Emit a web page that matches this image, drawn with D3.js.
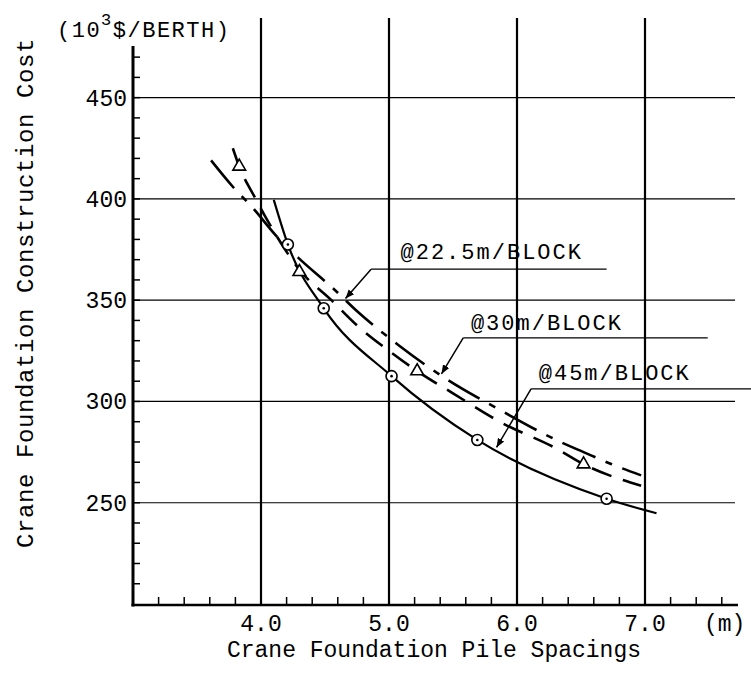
<!DOCTYPE html>
<html><head><meta charset="utf-8">
<script src="https://cdn.jsdelivr.net/npm/d3@7"></script>
<style>body{margin:0;background:#fff}svg{display:block}</style>
</head><body><svg id="c" width="751" height="691"></svg>
<script>
// ---------- data ----------
const xTickValues = [4, 5, 6, 7];
const xTickLabels = ["4.0", "5.0", "6.0", "7.0"];
const yTickValues = [250, 300, 350, 400, 450];
const yTickLabels = ["250", "300", "350", "400", "450"];
const seriesNames = ["@22.5m/BLOCK", "@30m/BLOCK", "@45m/BLOCK"];

// @22.5m/BLOCK (dash-dot, no markers)
const s225X = [3.61, 3.78, 3.93, 4.13, 4.29, 4.56, 4.76, 5.07, 5.45, 5.85, 6.34, 6.52, 6.74, 6.97];
const s225Y = [419, 406, 396, 381, 371, 356, 344, 328, 311, 296.4, 280, 275, 269, 263.5];
// @30m/BLOCK (dashed, triangles)
const s30X = [3.78, 3.83, 3.95, 4.10, 4.30, 4.55, 4.76, 5.00, 5.22, 5.50, 5.88, 6.30, 6.52, 6.97];
const s30Y = [425, 416, 401, 384, 365, 350, 337, 325, 315, 304, 289.5, 277, 269, 258.4];
const s30MarkX = [3.83, 4.30, 5.22, 6.52];
const s30MarkY = [416, 364, 315, 269];
// @45m/BLOCK (solid, circles)
const s45X = [4.10, 4.21, 4.49, 5.02, 5.69, 6.70, 7.09];
const s45Y = [399.5, 377.5, 346, 312.5, 281, 252, 244.8];
const s45MarkX = [4.21, 4.49, 5.02, 5.69, 6.70];
const s45MarkY = [377.5, 346, 312.5, 281, 252];

// ---------- layout ----------
const svg = d3.select("#c");
const FONT = "'Liberation Mono', 'DejaVu Sans Mono', monospace";
const x = d3.scale ? null : null;
const xs = d3.scaleLinear().domain([3, 7]).range([133, 645]);
const ys = d3.scaleLinear().domain([200, 475]).range([604, 47]);
const xAxisEnd = 738, gridRight = 735, gridTop = 18;

svg.append("rect").attr("width", 751).attr("height", 691).attr("fill", "#fff");

// horizontal gridlines
svg.append("g").selectAll("line").data(yTickValues).join("line")
  .attr("x1", 133).attr("x2", gridRight)
  .attr("y1", d => ys(d)).attr("y2", d => ys(d))
  .attr("stroke", "#000").attr("stroke-width", 1.2);
// vertical gridlines
svg.append("g").selectAll("line").data(xTickValues).join("line")
  .attr("x1", d => xs(d)).attr("x2", d => xs(d))
  .attr("y1", 605).attr("y2", gridTop)
  .attr("stroke", "#000").attr("stroke-width", 2.2);

// minor ticks (inside)
const yMinor = d3.range(210, 471, 10);
svg.append("g").selectAll("line").data(yMinor).join("line")
  .attr("x1", 133).attr("x2", 140)
  .attr("y1", d => ys(d)).attr("y2", d => ys(d))
  .attr("stroke", "#000").attr("stroke-width", 1.5);
const xMinor = d3.range(3.2, 7.61, 0.2);
svg.append("g").selectAll("line").data(xMinor).join("line")
  .attr("x1", d => xs(d)).attr("x2", d => xs(d))
  .attr("y1", 605).attr("y2", 597)
  .attr("stroke", "#000").attr("stroke-width", 1.5);

// axes lines
svg.append("line").attr("x1", 133).attr("x2", 133).attr("y1", 46).attr("y2", 606.5)
  .attr("stroke", "#000").attr("stroke-width", 3);
svg.append("line").attr("x1", 131.5).attr("x2", xAxisEnd).attr("y1", 605).attr("y2", 605)
  .attr("stroke", "#000").attr("stroke-width", 2.5);

// tick labels
svg.append("g").selectAll("text").data(yTickValues).join("text")
  .attr("x", 127).attr("y", d => ys(d) + 8)
  .attr("text-anchor", "end").attr("font-family", FONT).attr("font-size", 23)
  .text((d, i) => yTickLabels[i]);
svg.append("g").selectAll("text").data(xTickValues).join("text")
  .attr("x", d => xs(d)).attr("y", 631)
  .attr("text-anchor", "middle").attr("font-family", FONT).attr("font-size", 23)
  .text((d, i) => xTickLabels[i]);
svg.append("text").attr("x", 704).attr("y", 631).attr("font-family", FONT).attr("font-size", 23)
  .text("(m)");

// axis titles
svg.append("text").attr("x", 434).attr("y", 657).attr("text-anchor", "middle")
  .attr("font-family", FONT).attr("font-size", 23).text("Crane Foundation Pile Spacings");
svg.append("text").attr("transform", "translate(33,293) rotate(-90)").attr("text-anchor", "middle")
  .attr("font-family", FONT).attr("font-size", 24).attr("letter-spacing", 0.6)
  .text("Crane Foundation Construction Cost");
const unit = svg.append("text").attr("x", 57).attr("y", 37)
  .attr("font-family", FONT).attr("font-size", 22).attr("letter-spacing", 1.5);
unit.append("tspan").text("(10");
unit.append("tspan").attr("dy", -12).attr("font-size", 17).text("3");
unit.append("tspan").attr("dy", 12).text("$/BERTH)");

// curves
const line = d3.line().x(d => xs(d[0])).y(d => ys(d[1])).curve(d3.curveMonotoneX);
const zip = (a, b) => a.map((v, i) => [v, b[i]]);
svg.append("path").attr("d", line(zip(s225X, s225Y))).attr("fill", "none")
  .attr("stroke", "#000").attr("stroke-width", 2.6).attr("stroke-dasharray", "36,11,7,11");
svg.append("path").attr("d", line(zip(s30X, s30Y))).attr("fill", "none")
  .attr("stroke", "#000").attr("stroke-width", 2.6).attr("stroke-dasharray", "21,12");
svg.append("path").attr("d", line(zip(s45X, s45Y))).attr("fill", "none")
  .attr("stroke", "#000").attr("stroke-width", 2.2);

// markers
const circ = svg.append("g").selectAll("g").data(zip(s45MarkX, s45MarkY)).join("g")
  .attr("transform", d => `translate(${xs(d[0])},${ys(d[1])})`);
circ.append("circle").attr("r", 5.5).attr("fill", "#fff").attr("stroke", "#000").attr("stroke-width", 1.6);
circ.append("circle").attr("r", 1.3).attr("fill", "#000");
svg.append("g").selectAll("path").data(zip(s30MarkX, s30MarkY)).join("path")
  .attr("transform", d => `translate(${xs(d[0])},${ys(d[1])})`)
  .attr("d", d3.symbol(d3.symbolTriangle, 70))
  .attr("fill", "#fff").attr("stroke", "#000").attr("stroke-width", 1.6);

// annotations (label, elbow, tip, underline end) in data units
const annLabelX = [5.09, 5.64, 6.17], annLabelY = [370.5, 335.3, 310.8];
const annElbowX = [4.86, 5.58, 6.11], annElbowY = [365.3, 331.4, 306.2];
const annTipX = [4.66, 5.41, 5.84], annTipY = [350.8, 313.6, 277.3];
const annEndX = [6.70, 7.49, 7.83];

svg.append("defs").append("marker").attr("id", "ah")
  .attr("viewBox", "0 0 10 10").attr("refX", 10).attr("refY", 5)
  .attr("markerWidth", 9).attr("markerHeight", 9).attr("markerUnits", "userSpaceOnUse")
  .attr("orient", "auto")
  .append("path").attr("d", "M0,1L10,5L0,9Z").attr("fill", "#000");

seriesNames.forEach((name, i) => {
  svg.append("line").attr("x1", xs(annElbowX[i])).attr("y1", ys(annElbowY[i]))
    .attr("x2", xs(annEndX[i])).attr("y2", ys(annElbowY[i]))
    .attr("stroke", "#000").attr("stroke-width", 1.3);
  svg.append("line").attr("x1", xs(annElbowX[i])).attr("y1", ys(annElbowY[i]))
    .attr("x2", xs(annTipX[i])).attr("y2", ys(annTipY[i]))
    .attr("stroke", "#000").attr("stroke-width", 1.5).attr("marker-end", "url(#ah)");
  svg.append("text").attr("x", xs(annLabelX[i])).attr("y", ys(annLabelY[i]))
    .attr("font-family", FONT).attr("font-size", 22).attr("letter-spacing", 2)
    .text(name);
});
</script>
</body></html>
